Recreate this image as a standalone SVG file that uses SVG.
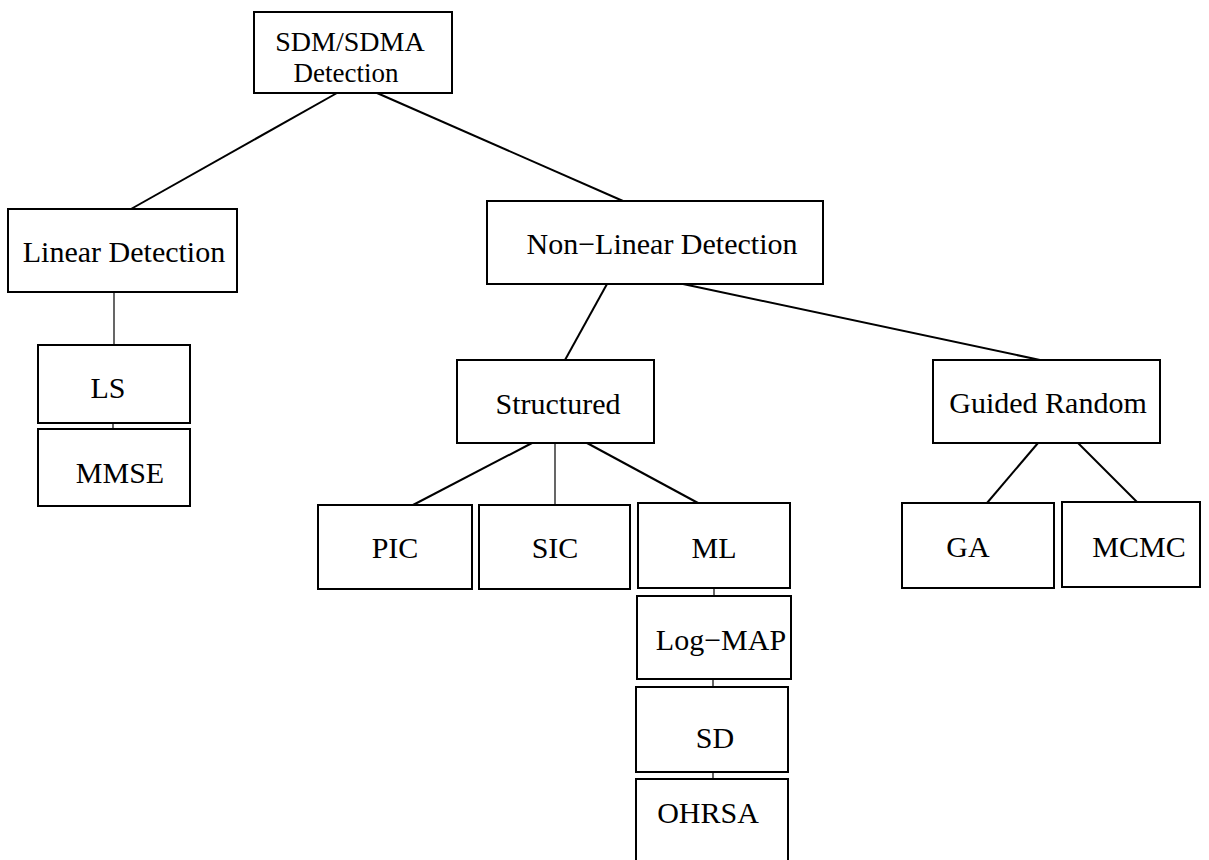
<svg xmlns="http://www.w3.org/2000/svg" width="1209" height="860" viewBox="0 0 1209 860">
  <style>
    .box { fill: #ffffff; stroke: #000000; stroke-width: 2; }
    .lbl { font-family: "Liberation Serif", "Times New Roman", serif; font-size: 30px; fill: #000000; text-anchor: middle; }
    .t1 { font-size: 28px; }
    .t2 { font-size: 27px; }
    .edge { stroke: #000000; stroke-width: 2; fill: none; }
    .thin { stroke: #000000; stroke-width: 1.2; fill: none; }
  </style>
  <rect width="1209" height="860" fill="#ffffff"/>

  <!-- connectors -->
  <g id="connectors">
    <line class="edge" x1="337" y1="93" x2="131" y2="209"/>
    <line class="edge" x1="377" y1="93" x2="623" y2="201"/>
    <line class="thin" x1="114" y1="292" x2="114" y2="345"/>
    <line class="thin" x1="113" y1="423" x2="113" y2="429"/>
    <line class="edge" x1="607" y1="284" x2="565" y2="360"/>
    <line class="edge" x1="683" y1="284" x2="1040" y2="360"/>
    <line class="edge" x1="532" y1="443" x2="413" y2="505"/>
    <line class="thin" x1="555" y1="443" x2="555" y2="505"/>
    <line class="edge" x1="587" y1="443" x2="698" y2="503"/>
    <line class="thin" x1="714" y1="588" x2="714" y2="596"/>
    <line class="thin" x1="713" y1="679" x2="713" y2="687"/>
    <line class="thin" x1="713" y1="772" x2="713" y2="779"/>
    <line class="edge" x1="1038" y1="443" x2="987" y2="503"/>
    <line class="edge" x1="1078" y1="443" x2="1137" y2="502"/>
  </g>

  <g id="root">
    <rect class="box" x="254" y="12" width="198" height="81"/>
    <text class="lbl t1" x="350" y="51">SDM/SDMA</text>
    <text class="lbl t2" x="346" y="82">Detection</text>
  </g>

  <g id="linear">
    <rect class="box" x="8" y="209" width="229" height="83"/>
    <text class="lbl" x="124" y="262">Linear Detection</text>
  </g>

  <g id="ls">
    <rect class="box" x="38" y="345" width="152" height="78"/>
    <text class="lbl" x="108" y="398">LS</text>
  </g>

  <g id="mmse">
    <rect class="box" x="38" y="429" width="152" height="77"/>
    <text class="lbl" x="120" y="483">MMSE</text>
  </g>

  <g id="nonlinear">
    <rect class="box" x="487" y="201" width="336" height="83"/>
    <text class="lbl" x="662" y="254">Non−Linear Detection</text>
  </g>

  <g id="structured">
    <rect class="box" x="457" y="360" width="197" height="83"/>
    <text class="lbl" x="558" y="414">Structured</text>
  </g>

  <g id="guided">
    <rect class="box" x="933" y="360" width="227" height="83"/>
    <text class="lbl" x="1048" y="413">Guided Random</text>
  </g>

  <g id="pic">
    <rect class="box" x="318" y="505" width="154" height="84"/>
    <text class="lbl" x="395" y="558">PIC</text>
  </g>

  <g id="sic">
    <rect class="box" x="479" y="505" width="151" height="84"/>
    <text class="lbl" x="555" y="558">SIC</text>
  </g>

  <g id="ml">
    <rect class="box" x="638" y="503" width="152" height="85"/>
    <text class="lbl" x="714" y="558">ML</text>
  </g>

  <g id="logmap">
    <rect class="box" x="637" y="596" width="154" height="83"/>
    <text class="lbl" x="721" y="650">Log−MAP</text>
  </g>

  <g id="sd">
    <rect class="box" x="636" y="687" width="152" height="85"/>
    <text class="lbl" x="715" y="748">SD</text>
  </g>

  <g id="ohrsa">
    <rect class="box" x="636" y="779" width="152" height="90"/>
    <text class="lbl" x="708" y="823">OHRSA</text>
  </g>

  <g id="ga">
    <rect class="box" x="902" y="503" width="152" height="85"/>
    <text class="lbl" x="968" y="557">GA</text>
  </g>

  <g id="mcmc">
    <rect class="box" x="1062" y="502" width="138" height="85"/>
    <text class="lbl" x="1139" y="557">MCMC</text>
  </g>
</svg>
